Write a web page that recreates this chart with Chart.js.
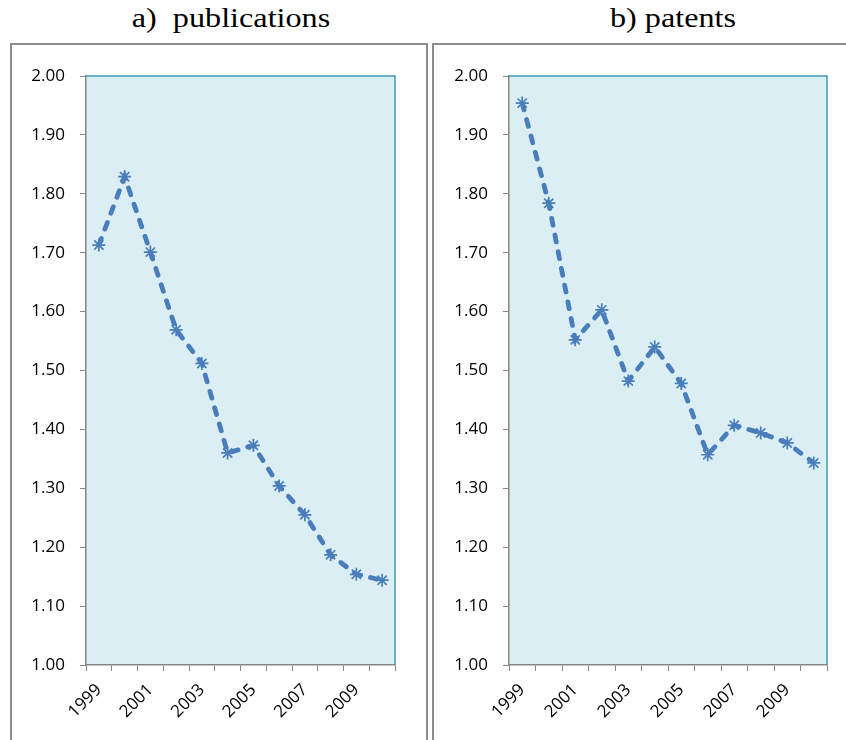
<!DOCTYPE html>
<html>
<head>
<meta charset="utf-8">
<script src="https://cdn.jsdelivr.net/npm/chart.js@4"></script>
<style>
  html, body { margin: 0; padding: 0; background: #fff; overflow: hidden; }
  body { width: 846px; height: 740px; position: relative; }
  .title { position: absolute; top: 2px; font-family: 'Liberation Serif', 'Times New Roman', serif; font-size: 28px; color: #000; white-space: pre; transform: scaleX(1.15); transform-origin: center; }
  .box { position: absolute; border: 2px solid #8c8c8c; box-sizing: border-box; }
  canvas { position: absolute; }
</style>
</head>
<body>
<div class="title" style="left:131px;width:200px;text-align:center;">a)  publications</div>
<div class="title" style="left:573px;width:200px;text-align:center;">b) patents</div>
<div class="box" style="left:10px;top:43px;width:418px;height:720px;"></div>
<div class="box" style="left:432px;top:43px;width:430px;height:720px;"></div>
<canvas id="pubs" width="430" height="696" style="left:0;top:44px;"></canvas>
<canvas id="pats" width="416" height="696" style="left:430px;top:44px;"></canvas>
<script>
  'use strict';

  const YEARS = ['1999', '2000', '2001', '2002', '2003', '2004', '2005', '2006', '2007', '2008', '2009', '2010'];
  const PUBLICATIONS = [1.713, 1.829, 1.701, 1.569, 1.512, 1.360, 1.373, 1.304, 1.255, 1.187, 1.154, 1.144];
  const PATENTS = [1.954, 1.784, 1.552, 1.603, 1.482, 1.540, 1.478, 1.357, 1.407, 1.394, 1.377, 1.343];
  const Y_MIN = 1.0, Y_MAX = 2.0, Y_STEP = 0.1;

  const LINE = '#4a7ebb';
  const PLOT_BG = '#dbeef4';
  const PLOT_EDGE = '#3f9bb6';
  const AXIS = '#868686';
  const FONT = "'Open Sans', 'Liberation Sans', sans-serif";

  // light-blue plot area with teal top/right edge (axes drawn on top in grey)
  const plotBg = {
    id: 'plotBg',
    beforeDraw(chart) {
      const a = chart.chartArea, ctx = chart.ctx;
      ctx.save();
      ctx.fillStyle = PLOT_BG;
      ctx.fillRect(a.left, a.top, a.right - a.left, a.bottom - a.top);
      ctx.strokeStyle = PLOT_EDGE; ctx.lineWidth = 1.5;
      ctx.beginPath();
      ctx.moveTo(a.left, a.top); ctx.lineTo(a.right, a.top); ctx.lineTo(a.right, a.bottom);
      ctx.stroke();
      ctx.restore();
    },
  };

  function panel(id, data, yWidth, padRight) {
    const ctx = document.getElementById(id);
    return new Chart(ctx, {
      type: 'line',
      data: {
        labels: YEARS,
        datasets: [{
          data,
          borderColor: LINE,
          backgroundColor: LINE,
          borderWidth: 4.8,
          borderDash: [7, 10],
          borderCapStyle: 'round',
          tension: 0,
          fill: false,
          pointStyle: 'star',
          pointRadius: 6.5,
          pointBorderWidth: 1.7,
          pointBorderColor: LINE,
        }],
      },
      options: {
        responsive: false, animation: false, devicePixelRatio: 1,
        layout: { padding: { top: 32, right: padRight, left: 0, bottom: 0 } },
        plugins: { legend: { display: false }, tooltip: { enabled: false } },
        scales: {
          x: {
            offset: true,
            grid: { offset: true, drawOnChartArea: false, drawTicks: true, tickLength: 6, color: AXIS },
            border: { display: true, color: AXIS, width: 1.5 },
            ticks: {
              autoSkip: false, minRotation: 45, maxRotation: 45, padding: 9,
              color: '#000', font: { size: 17, family: FONT },
              callback: (v, i) => (i % 2 === 0 ? YEARS[i] : ''),
            },
            afterFit: (s) => { s.height = 75; },
          },
          y: {
            min: Y_MIN, max: Y_MAX,
            grid: { drawOnChartArea: false, drawTicks: true, tickLength: 6, color: AXIS },
            border: { display: true, color: AXIS, width: 1.5 },
            ticks: {
              stepSize: Y_STEP, padding: 15,
              color: '#000', font: { size: 17, family: FONT },
              callback: (v) => Number(v).toFixed(2),
            },
            afterFit: (s) => { s.width = yWidth; },
          },
        },
      },
      plugins: [plotBg],
    });
  }

  panel('pubs', PUBLICATIONS, 86, 35);
  panel('pats', PATENTS, 79, 19);
</script>
</body>
</html>
